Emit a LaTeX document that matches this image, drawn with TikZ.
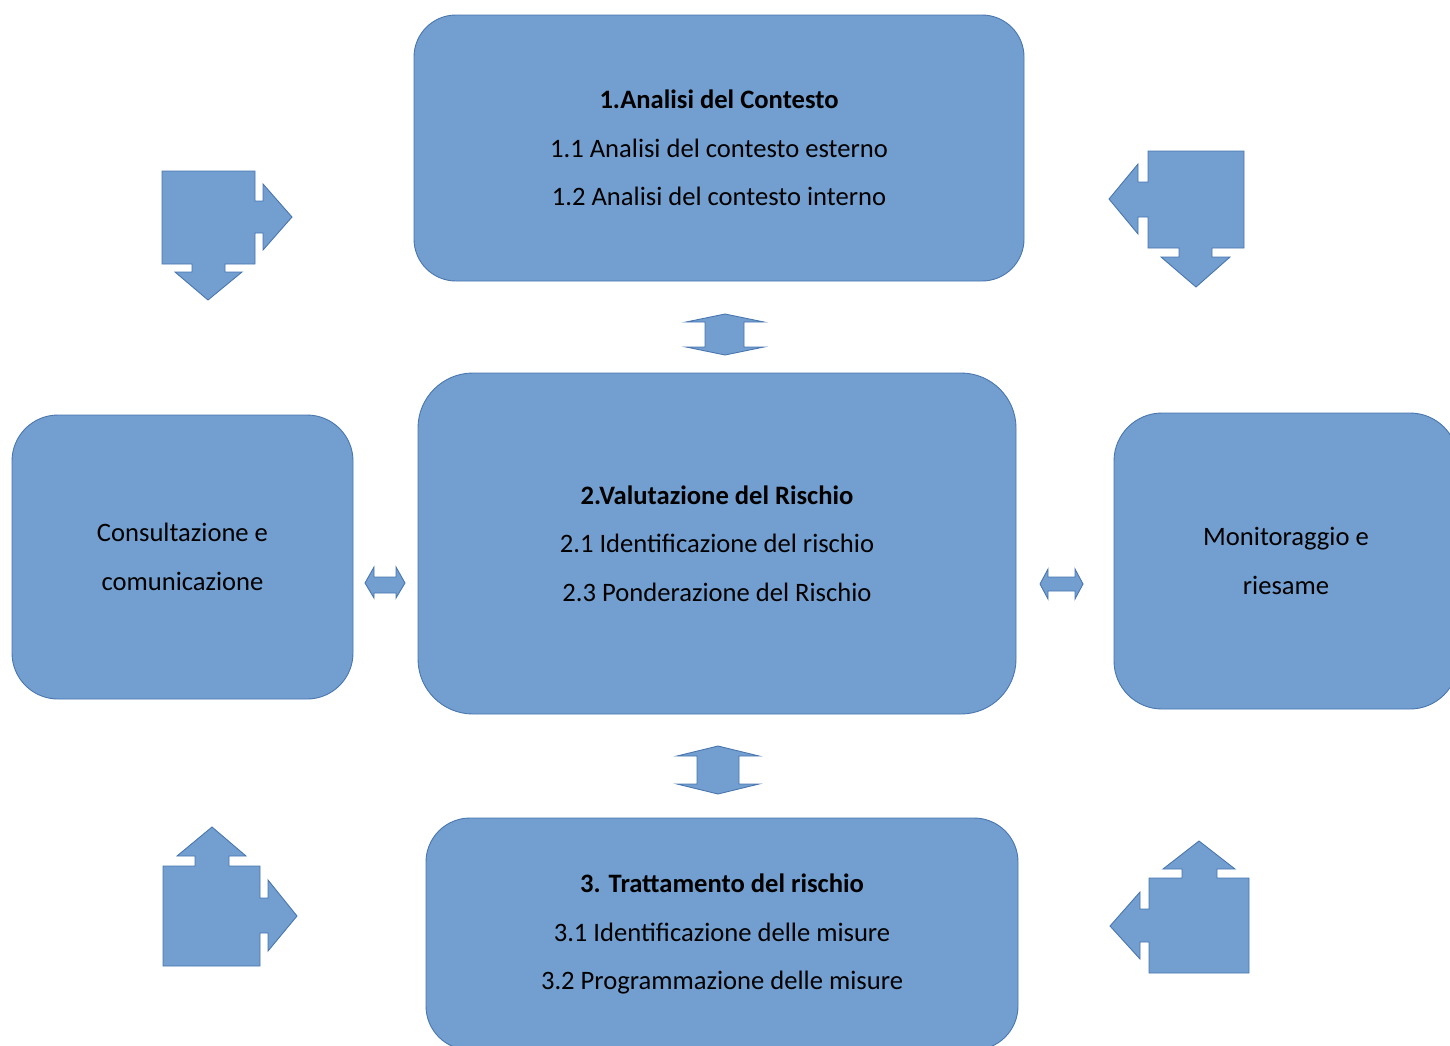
\documentclass[tikz,border=0pt]{standalone}
\usepackage{fontspec}
\setmainfont{Carlito}
\definecolor{boxfill}{HTML}{729FCF}
\definecolor{boxline}{HTML}{4A76B0}
\begin{document}
\begin{tikzpicture}[x=1pt,y=-1pt,
  box/.style={draw=boxline,fill=boxfill,line width=0.9pt,align=center,
    font=\fontsize{26.6}{48.5}\selectfont,inner sep=0pt},
  blockarrow/.style={draw=boxline,fill=boxfill,line width=0.9pt,line join=miter}]
\useasboundingbox (0,0) rectangle (1450,1045);
\clip (0,0) rectangle (1450,1045);
% boxes
\node[box,minimum width=610pt,minimum height=266pt,rounded corners=42pt] (ctx) at (719,148)
  {\textbf{1.Analisi del Contesto}\\1.1 Analisi del contesto esterno\\1.2 Analisi del contesto interno};
\node[box,minimum width=598pt,minimum height=341pt,rounded corners=55pt] (val) at (717,543.5)
  {\textbf{2.Valutazione del Rischio}\\2.1 Identificazione del rischio\\2.3 Ponderazione del Rischio};
\node[box,minimum width=592pt,minimum height=232pt,rounded corners=44pt] (trt) at (722,934)
  {\textbf{3. Trattamento del rischio}\\3.1 Identificazione delle misure\\3.2 Programmazione delle misure};
\node[box,minimum width=341pt,minimum height=284pt,rounded corners=46pt] (cons) at (182.5,557)
  {Consultazione e\\comunicazione};
\node[box,minimum width=344pt,minimum height=296pt,rounded corners=48pt] (mon) at (1286,561)
  {Monitoraggio e\\riesame};
% vertical double arrows
\draw[blockarrow] (725,314)--(764,322)--(744,322)--(744,347)--(764,347)--(725,355)--(686,347)--(705,347)--(705,322)--(686,322)--cycle;
\draw[blockarrow] (718,746)--(759,756)--(739,756)--(739,784)--(759,784)--(718,794)--(677,784)--(697,784)--(697,756)--(677,756)--cycle;
% horizontal double arrows
\draw[blockarrow] (365,583)--(374,567)--(374,577)--(396,577)--(396,567)--(405,583)--(396,598)--(396,593)--(374,593)--(374,598)--cycle;
\draw[blockarrow] (1040,584)--(1048,569)--(1048,577)--(1075,577)--(1075,569)--(1083,584)--(1075,599)--(1075,591)--(1048,591)--(1048,599)--cycle;
% corner arrows
\draw[blockarrow] (162,171)--(255,171)--(255,201)--(263,201)--(263,184)--(292,217)--(263,250)--(263,233)--(255,233)--(255,264)--(225,264)--(225,272)--(242,272)--(208,300)--(175,272)--(192,272)--(192,264)--(162,264)--cycle;
\draw[blockarrow] (1148,151)--(1244,151)--(1244,248)--(1212,248)--(1212,257)--(1230,257)--(1196,287)--(1161,257)--(1179,257)--(1179,248)--(1148,248)--(1148,217)--(1138,217)--(1138,234)--(1109,199)--(1138,164)--(1138,182)--(1148,182)--cycle;
\draw[blockarrow] (163,866)--(195,866)--(195,856)--(177,856)--(212,827)--(246,856)--(229,856)--(229,866)--(260,866)--(260,898)--(268,898)--(268,880)--(297,916)--(268,951)--(268,933)--(260,933)--(260,966)--(163,966)--cycle;
\draw[blockarrow] (1149,878)--(1182,878)--(1182,869)--(1163,869)--(1199,841)--(1235,869)--(1217,869)--(1217,878)--(1249,878)--(1249,973)--(1149,973)--(1149,942)--(1140,942)--(1140,959)--(1110,926)--(1140,892)--(1140,909)--(1149,909)--cycle;
\end{tikzpicture}
\end{document}
